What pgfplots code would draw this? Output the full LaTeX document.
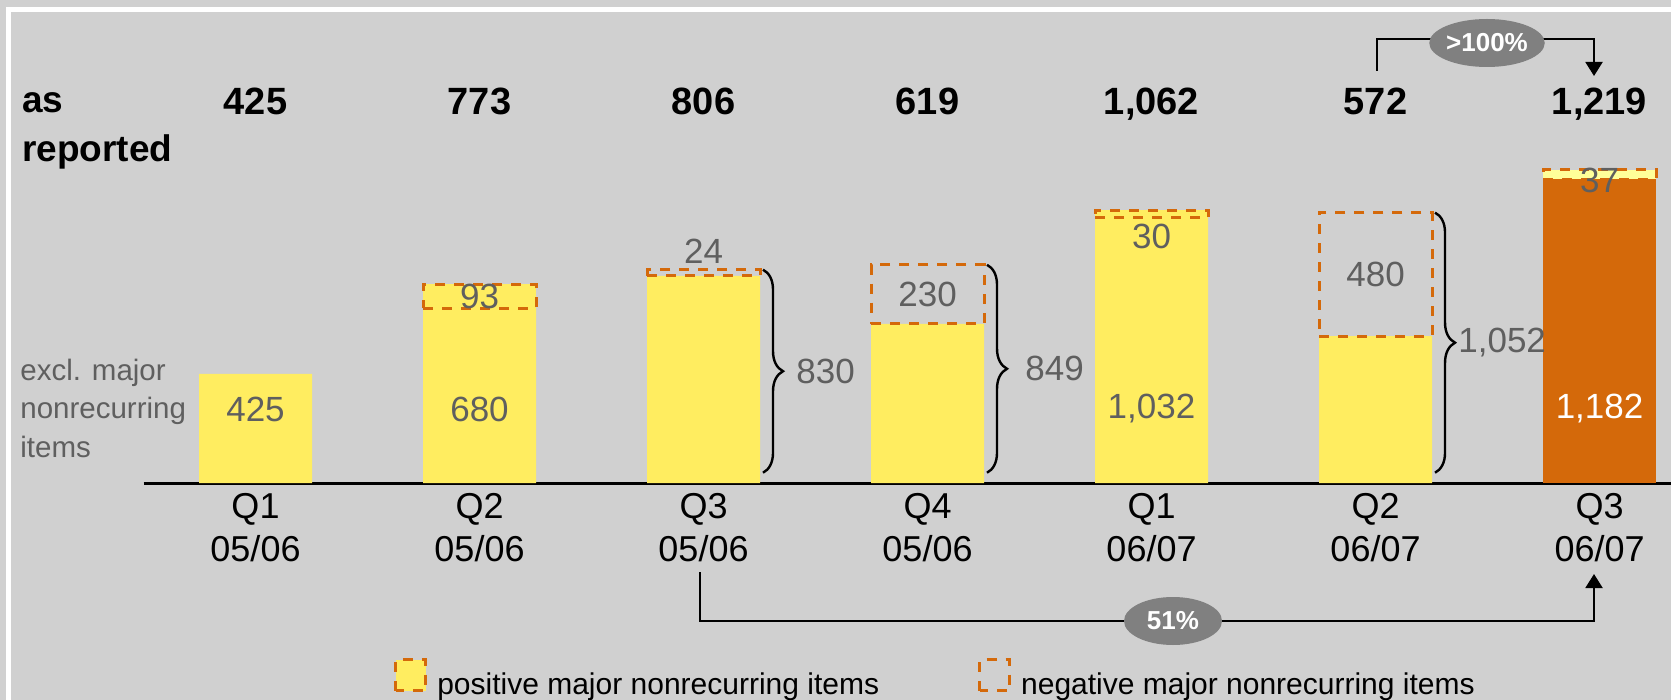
\documentclass[border=0pt]{standalone}
\usepackage{pgfplots}
\pgfplotsset{compat=1.18}
\usepackage{fontspec}
\setmainfont{Liberation Sans}
\usetikzlibrary{decorations.pathreplacing,arrows.meta,shapes.geometric}
\definecolor{bgC}{RGB}{208,208,208}
\definecolor{yelC}{RGB}{255,237,96}
\definecolor{oraC}{RGB}{212,105,10}
\definecolor{lyelC}{RGB}{255,255,153}
\definecolor{txtC}{RGB}{95,95,95}
\definecolor{ellC}{RGB}{128,128,128}
\tikzset{
  box/.style={draw=oraC, line width=1.5pt, dash pattern=on 5pt off 4.5pt},
  lab/.style={font=\fontsize{17.5}{20}\selectfont, text=txtC, inner sep=0pt},
}
\begin{document}
\begin{tikzpicture}
\begin{scope}[x=0.5pt,y=-0.5pt]
\fill[bgC] (0,0) rectangle (1671,700);
\draw[white, line width=2.5pt] (8.5,700) -- (8.5,9.3) -- (1671,9.3);
\end{scope}
\begin{axis}[
  at={(71.75pt,-241.5pt)}, anchor=south west,
  scale only axis, width=763.75pt, height=167.05pt,
  xmin=-0.5, xmax=6.319, ymin=0, ymax=1300,
  clip=false,
  axis x line*=bottom, axis y line=none, ytick=\empty,
  x axis line style={line width=1.5pt, black},
  xtick={0,...,6}, major tick length=0pt,
  xticklabels={{Q1\\05/06},{Q2\\05/06},{Q3\\05/06},{Q4\\05/06},{Q1\\06/07},{Q2\\06/07},{Q3\\06/07}},
  xticklabel style={align=center, font=\fontsize{18}{21.5}\selectfont, text=black, inner sep=0pt, yshift=-5pt},
  legend columns=2,
  legend image code/.code={\draw[#1] (0pt,-2.5pt) rectangle (15pt,13pt);},
  legend style={at={(axis description cs:0.1600,-0.5836)}, anchor=west, draw=none, fill=none,
    font=\fontsize{15}{18}\selectfont, text=black, nodes={inner sep=0pt},
    /tikz/every odd column/.append style={column sep=5pt},
    /tikz/every even column/.append style={column sep=49.5pt}},
]
% base bars (excl. major nonrecurring items / as reported)
\addplot[ybar, bar width=56.5pt, bar shift=0pt, fill=yelC, draw=none, forget plot]
  coordinates {(0,425) (1,680) (2,806) (3,619) (4,1032) (5,572)};
\addplot[ybar, bar width=56.5pt, bar shift=0pt, fill=oraC, draw=none, forget plot]
  coordinates {(6,1182)};
% positive major nonrecurring items
\addplot[box, fill=yelC] coordinates {(0.7478,680) (1.2522,680) (1.2522,773) (0.7478,773)} -- cycle;
\addlegendentry{positive major nonrecurring items}
% negative major nonrecurring items
\addplot[box, fill=none] coordinates {(1.7478,806) (2.2522,806) (2.2522,830) (1.7478,830)} -- cycle;
\addlegendentry{negative major nonrecurring items}
\addplot[box, fill=none, forget plot] coordinates {(2.7478,619) (3.2522,619) (3.2522,849) (2.7478,849)} -- cycle;
\addplot[box, fill=yelC, forget plot] coordinates {(3.7478,1032) (4.2522,1032) (4.2522,1062) (3.7478,1062)} -- cycle;
\addplot[box, fill=none, forget plot] coordinates {(4.7478,572) (5.2522,572) (5.2522,1052) (4.7478,1052)} -- cycle;
\addplot[box, fill=lyelC, forget plot] coordinates {(5.7478,1182) (6.2522,1182) (6.2522,1219) (5.7478,1219)} -- cycle;
% labels
\node[lab] at (axis cs:0,288) {425};
\node[lab] at (axis cs:1,288) {680};
\node[lab] at (axis cs:4,288) {1,032};
\node[lab, text=white] at (axis cs:6,288) {1,182};
\node[lab] at (axis cs:1,726.5) {93};
\node[lab, anchor=base] at (axis cs:2,855) {24};
\node[lab] at (axis cs:3,734) {230};
\node[lab] at (axis cs:4,959) {30};
\node[lab] at (axis cs:5,812) {480};
\node[lab] at (axis cs:6,1179) {37};
% braces
\draw[decorate, decoration={brace, amplitude=10pt}, line width=1.2pt] (axis cs:2.2656,830) -- (axis cs:2.2656,40);
\node[lab, anchor=west] at (axis cs:2.413,435) {830};
\draw[decorate, decoration={brace, amplitude=10pt}, line width=1.2pt] (axis cs:3.2656,849) -- (axis cs:3.2656,40);
\node[lab, anchor=west] at (axis cs:3.435,444.5) {849};
\draw[decorate, decoration={brace, amplitude=10pt}, line width=1.2pt] (axis cs:5.2656,1052) -- (axis cs:5.2656,40);
\node[lab, anchor=west] at (axis cs:5.368,546) {1,052};
\end{axis}
\begin{scope}[x=0.5pt,y=-0.5pt]
% as reported row
\node[anchor=base west, inner sep=0pt, font=\bfseries\fontsize{18.5}{22}\selectfont] at (22,113) {as};
\node[anchor=base west, inner sep=0pt, font=\bfseries\fontsize{18.5}{22}\selectfont] at (22,162) {reported};
\foreach \xx/\vv in {255.5/425, 479.5/773, 703.5/806, 927.5/619, 1151.5/{1,062}, 1375.5/572, 1599.5/{1,219}}
  \node[anchor=base, inner sep=0pt, font=\bfseries\fontsize{19}{22}\selectfont] at (\xx,115) {\vv};
% left label
\node[anchor=base west, inner sep=0pt, text=txtC, font=\fontsize{14.75}{18}\selectfont] at (20,380) {excl. major};
\node[anchor=base west, inner sep=0pt, text=txtC, font=\fontsize{14.75}{18}\selectfont] at (20,418) {nonrecurring};
\node[anchor=base west, inner sep=0pt, text=txtC, font=\fontsize{14.75}{18}\selectfont] at (20,457) {items};
% growth arrows
\draw[line width=1pt, -{Triangle[width=8.5pt,length=7pt]}] (1377,71) -- (1377,39) -- (1594,39) -- (1594,76);
\node[ellipse, fill=ellC, minimum width=48.5pt, minimum height=24pt, inner sep=0pt, text=white, font=\bfseries\fontsize{13}{15}\selectfont] at (1487,43) {>100\%};
\draw[line width=1pt, -{Triangle[width=8.5pt,length=7pt]}] (700,572) -- (700,621) -- (1594,621) -- (1594,574);
\node[ellipse, fill=ellC, minimum width=49pt, minimum height=24pt, inner sep=0pt, text=white, font=\bfseries\fontsize{13}{15}\selectfont] at (1173,621) {51\%};
\pgfresetboundingbox
\useasboundingbox (0,0) rectangle (1671,700);
\end{scope}
\end{tikzpicture}
\end{document}
